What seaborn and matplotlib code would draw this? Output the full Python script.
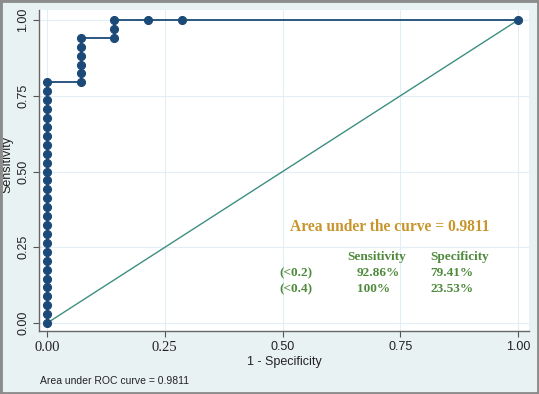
import matplotlib
matplotlib.use('Agg')
import matplotlib.pyplot as plt
import seaborn as sns
import pandas as pd
from matplotlib.patches import Rectangle

# ROC points (1 - specificity, sensitivity)
fpr = ([0.0] * 28
       + [0.0714] * 6
       + [0.1429] * 3
       + [0.2143, 0.2857, 1.0])
tpr = [0.000, 0.029, 0.059, 0.088, 0.118, 0.147, 0.176, 0.206, 0.235, 0.265,
       0.294, 0.324, 0.353, 0.382, 0.412, 0.441, 0.471, 0.500, 0.529, 0.559,
       0.588, 0.618, 0.647, 0.676, 0.706, 0.735, 0.765, 0.794,
       0.794, 0.824, 0.853, 0.882, 0.912, 0.941,
       0.941, 0.971, 1.000,
       1.000, 1.000, 1.000]
ref_x = [0.0, 1.0]
ref_y = [0.0, 1.0]
ticks = [0.0, 0.25, 0.5, 0.75, 1.0]
tick_labels = ['0.00', '0.25', '0.50', '0.75', '1.00']

auc_text = 'Area under the curve = 0.9811'
table_cols = ['Sensitivity', 'Specificity']
table_rows = ['(<0.2)', '(<0.4)']
table_sens = ['92.86%', '100%']
table_spec = ['79.41%', '23.53%']

df = pd.DataFrame({'fpr': fpr, 'tpr': tpr})

sns.set_style('white')
plt.rcParams['font.family'] = ['Liberation Sans', 'DejaVu Sans']

W, H = 539, 394
fig = plt.figure(figsize=(W / 100, H / 100), dpi=100, facecolor='#e9f2f3')
ax = fig.add_axes([39 / W, (H - 331) / H, (529 - 39) / W, (331 - 10) / H])
ax.set_facecolor('white')

navy = '#1b4a78'
ax.plot(ref_x, ref_y, color='#3c8f80', lw=1.0, zorder=2)
sns.lineplot(data=df, x='fpr', y='tpr', sort=False, estimator=None,
             color=navy, lw=1.3, marker='o', markersize=5.8,
             markeredgecolor=navy, markerfacecolor=navy, ax=ax, zorder=3)

ax.set_xlim(-0.017, 1.023)
ax.set_ylim(-0.026, 1.033)
ax.set_xticks(ticks)
ax.set_yticks(ticks)
ax.set_xticklabels(tick_labels, fontsize=9)
ax.set_yticklabels(tick_labels, fontsize=9, rotation=90, va='center')
ax.grid(True, color='#e3edf5', lw=0.8)
ax.tick_params(axis='both', direction='out', length=4, width=0.8,
               color='#555555', labelcolor='#222222', pad=3, left=True, bottom=True)
for lab in ax.get_xticklabels()[:2]:
    lab.set_family('Liberation Serif')
    lab.set_fontsize(10.5)
for side in ['top', 'right']:
    ax.spines[side].set_visible(False)
for side in ['left', 'bottom']:
    ax.spines[side].set_color('#666666')
    ax.spines[side].set_linewidth(1.0)

ax.set_xlabel('1 - Specificity', fontsize=9, color='#222222', labelpad=2)
ax.set_ylabel('Sensitivity', fontsize=9, color='#222222', va='center')
ax.yaxis.set_label_coords(-0.065, 0.52)

gold = '#c8952c'
green = '#4f8a3c'
tx = dict(family='Liberation Serif', weight='bold', transform=ax.transData,
          ha='left', va='center')
ax.text(0.516, 0.317, auc_text, color=gold, fontsize=11.2, **tx)
ax.text(0.637, 0.218, table_cols[0], color=green, fontsize=9.5, **tx)
ax.text(0.813, 0.218, table_cols[1], color=green, fontsize=9.5, **tx)
for i, r in enumerate(table_rows):
    yy = 0.165 - i * 0.053
    ax.text(0.493, yy, r, color=green, fontsize=9.5, **tx)
    ax.text(0.658, yy, table_sens[i], color=green, fontsize=9.5, **tx)
    ax.text(0.813, yy, table_spec[i], color=green, fontsize=9.5, **tx)

fig.text(40 / W, 1 - 381 / H, 'Area under ROC curve = 0.9811', fontsize=7.5,
         color='#222222', ha='left', va='center')

fig.patches.append(Rectangle((0, 0), 1, 1, transform=fig.transFigure, fill=False,
                             edgecolor='#8c8c8c', lw=3.5, zorder=10))

fig.savefig('out.png', dpi=100, facecolor=fig.get_facecolor())
